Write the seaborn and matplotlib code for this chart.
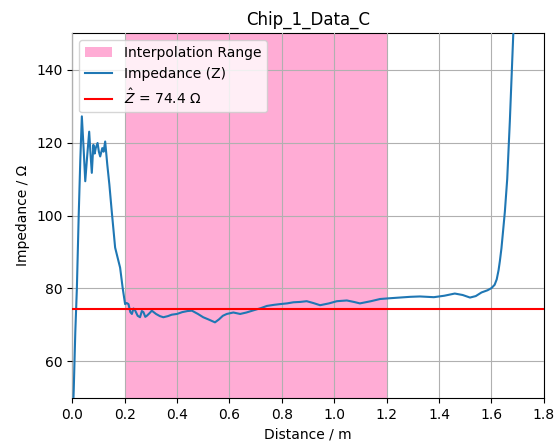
import matplotlib
matplotlib.use("Agg")
import matplotlib.pyplot as plt
import seaborn as sns
import pandas as pd

distance = [0.000, 0.006, 0.012, 0.018, 0.025, 0.031, 0.037, 0.044, 0.050, 0.057, 0.065, 0.070, 0.075,
            0.081, 0.086, 0.090, 0.097, 0.102, 0.107, 0.115, 0.120, 0.126, 0.134, 0.142, 0.151,
            0.164, 0.175, 0.183, 0.193, 0.202, 0.208, 0.215, 0.222, 0.228, 0.234, 0.240, 0.250,
            0.259, 0.266, 0.272, 0.279, 0.285, 0.295, 0.304, 0.320, 0.335, 0.348, 0.365, 0.380,
            0.400, 0.420, 0.440, 0.457, 0.480, 0.500, 0.520, 0.545, 0.560, 0.575, 0.590, 0.615,
            0.641, 0.665, 0.692, 0.720, 0.743, 0.770, 0.793, 0.820, 0.844, 0.870, 0.895, 0.920,
            0.946, 0.980, 1.010, 1.048, 1.075, 1.098, 1.140, 1.175, 1.210, 1.250, 1.290, 1.327,
            1.380, 1.420, 1.460, 1.490, 1.518, 1.540, 1.562, 1.585, 1.600, 1.612, 1.620, 1.627,
            1.632, 1.638, 1.643, 1.651, 1.660, 1.670, 1.683, 1.700]
impedance = [40.0, 52.0, 68.0, 80.0, 100.0, 115.0, 127.2, 118.0, 109.4, 116.0, 123.0, 117.0, 111.7,
             119.4, 117.0, 118.5, 119.9, 117.5, 116.2, 118.5, 117.5, 120.3, 114.0, 108.5, 101.2,
             91.2, 88.0, 85.7, 80.0, 75.7, 76.0, 75.7, 73.5, 73.0, 74.5, 74.0, 72.5,
             72.1, 73.8, 73.5, 72.2, 72.5, 73.2, 73.9, 73.0, 72.4, 72.1, 72.4, 72.8,
             73.0, 73.5, 73.8, 73.9, 73.0, 72.1, 71.5, 70.7, 71.5, 72.5, 73.0, 73.4,
             73.0, 73.4, 74.0, 74.6, 75.2, 75.5, 75.7, 75.9, 76.2, 76.3, 76.5, 76.0,
             75.4, 75.9, 76.5, 76.7, 76.3, 75.9, 76.5, 77.1, 77.3, 77.5, 77.7, 77.8,
             77.6, 78.0, 78.6, 78.2, 77.5, 77.9, 78.9, 79.5, 80.1, 81.0, 82.5, 85.0,
             87.5, 91.0, 94.8, 101.0, 110.0, 125.8, 149.5, 165.0]

mean_z = 74.4
interp_start, interp_end = 0.2, 1.2

df = pd.DataFrame({"Distance": distance, "Impedance": impedance})

fig, ax = plt.subplots(figsize=(5.55, 4.43), dpi=100)
fig.subplots_adjust(left=0.13, right=0.98, top=0.925, bottom=0.102)

ax.axvspan(interp_start, interp_end, color="hotpink", alpha=0.55, lw=0,
           label="Interpolation Range", zorder=1)
sns.lineplot(data=df, x="Distance", y="Impedance", ax=ax, color="#1f77b4",
             lw=1.5, label="Impedance (Z)", zorder=3, sort=False)
ax.axhline(mean_z, color="red", lw=1.5, label=r"$\hat{Z}$ = 74.4 Ω", zorder=4)

ax.set_xlim(0, 1.8)
ax.set_ylim(50, 150)
ax.set_xticks([0.0, 0.2, 0.4, 0.6, 0.8, 1.0, 1.2, 1.4, 1.6, 1.8])
ax.set_yticks([60, 80, 100, 120, 140])
ax.grid(True, color="#b0b0b0", lw=0.8, zorder=2)
ax.set_axisbelow(False)
ax.set_xlabel("Distance / m")
ax.set_ylabel("Impedance / Ω")
ax.set_title("Chip_1_Data_C")
ax.legend(loc="upper left")

fig.savefig("out.png", dpi=100)
